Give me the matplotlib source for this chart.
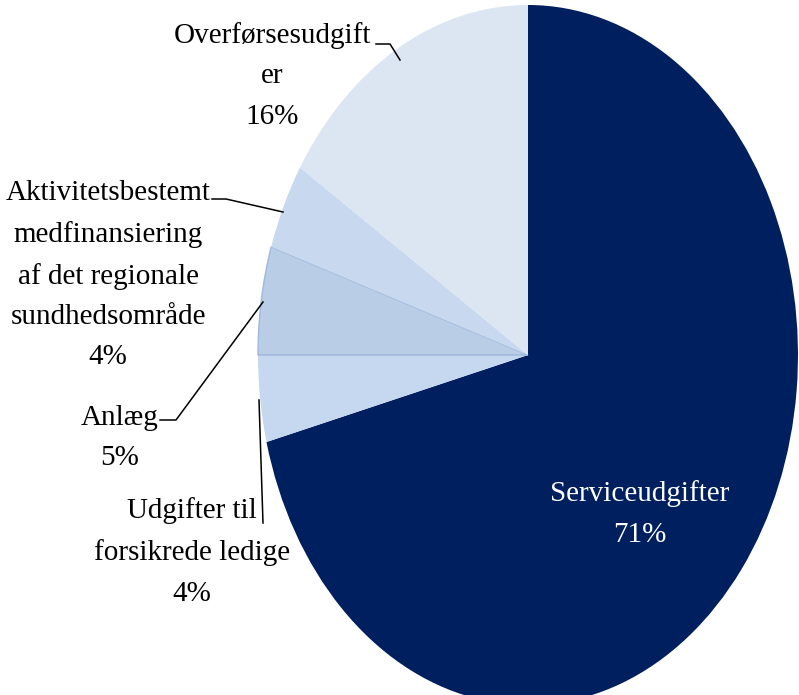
import matplotlib.pyplot as plt

labels = ["Serviceudgifter", "Udgifter til\nforsikrede ledige", "Anlæg",
          "Aktivitetsbestemt\nmedfinansiering\naf det regionale\nsundhedsområde",
          "Overførsesudgift\ner"]
shares = [71, 4, 5, 4, 16]
colors = ["#001F5E", "#C6D8F0", "#B9CDE6", "#C7D8EF", "#DCE5F2"]

plt.rcParams['font.family'] = ['Liberation Serif', 'DejaVu Serif']

fig = plt.figure(figsize=(7.99, 6.95), dpi=100)
# pie is stretched vertically in the reference, so axes are not square
W, H = 799, 695
cx, cy, rx, ry = 528, 355, 270, 350
ax = fig.add_axes([(cx - rx) / W, (H - cy - ry) / H, 2 * rx / W, 2 * ry / H])

wedges, _ = ax.pie(shares, colors=colors, startangle=90, counterclock=False,
                   wedgeprops=dict(linewidth=0))
wedges[2].set_edgecolor("#9FB8DB")
wedges[2].set_linewidth(1.0)
ax.set_aspect('auto')
ax.set_xlim(-1, 1)
ax.set_ylim(-1, 1)
ax.axis('off')


def d(px, py):
    return (px - cx) / rx, (cy - py) / ry


# label text (centre) and leader line points, in pixels
label_pos = [(640, 514), (192, 552), (120, 438), (108, 275), (272, 76)]
leaders = [None,
           [(259, 400), (263, 523)],
           [(160, 420), (176, 420), (263, 302)],
           [(212, 199), (226, 199), (283, 212)],
           [(376, 44), (390, 44), (400, 60)]]

for i, (lab, val) in enumerate(zip(labels, shares)):
    x, y = d(*label_pos[i])
    ax.text(x, y, f"{lab}\n{val}%", ha='center', va='center', fontsize=21,
            linespacing=1.72, color='white' if i == 0 else 'black')
    if leaders[i]:
        pts = [d(*p) for p in leaders[i]]
        ax.plot([p[0] for p in pts], [p[1] for p in pts], color='black',
                lw=1.1, clip_on=False)

fig.savefig("out.png", dpi=100)
